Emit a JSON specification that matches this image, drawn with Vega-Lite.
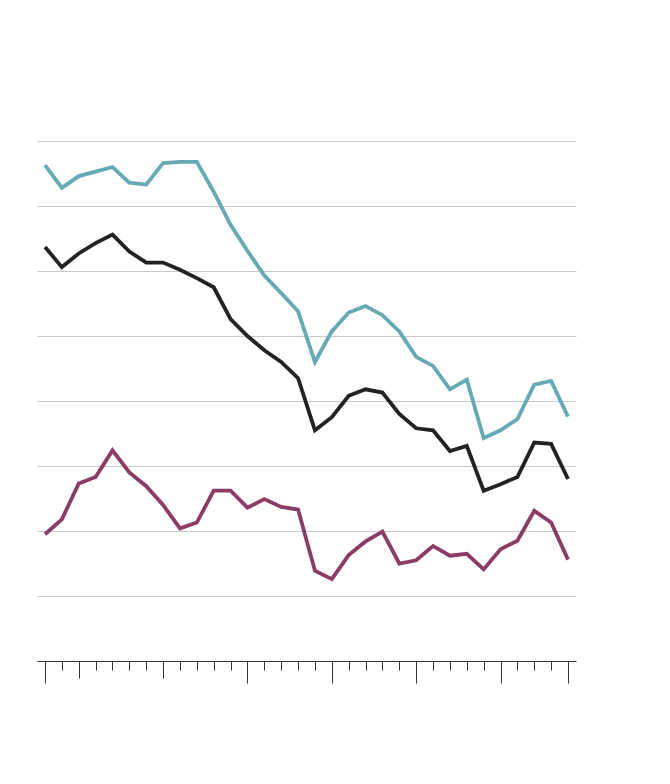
{
  "$schema": "https://vega.github.io/schema/vega-lite/v6.json",
  "width": 539,
  "height": 520,
  "autosize": {"type": "none"},
  "padding": {"left": 37, "top": 141, "right": 94, "bottom": 123},
  "background": "white",
  "config": {"view": {"stroke": null}},
  "data": {
    "values": [
      {"year":1988,"a":76.3,"b":63.7,"c":19.5},
      {"year":1989,"a":72.8,"b":60.6,"c":21.8},
      {"year":1990,"a":74.6,"b":62.7,"c":27.3},
      {"year":1991,"a":75.3,"b":64.3,"c":28.3},
      {"year":1992,"a":76.0,"b":65.6,"c":32.4},
      {"year":1993,"a":73.6,"b":63.0,"c":29.0},
      {"year":1994,"a":73.3,"b":61.3,"c":26.9},
      {"year":1995,"a":76.6,"b":61.3,"c":24.0},
      {"year":1996,"a":76.8,"b":60.2,"c":20.4},
      {"year":1997,"a":76.8,"b":58.9,"c":21.3},
      {"year":1998,"a":72.2,"b":57.5,"c":26.2},
      {"year":1999,"a":67.1,"b":52.6,"c":26.2},
      {"year":2000,"a":63.1,"b":50.0,"c":23.6},
      {"year":2001,"a":59.3,"b":47.8,"c":24.9},
      {"year":2002,"a":56.6,"b":46.0,"c":23.7},
      {"year":2003,"a":53.8,"b":43.5,"c":23.3},
      {"year":2004,"a":46.0,"b":35.5,"c":13.9},
      {"year":2005,"a":50.7,"b":37.5,"c":12.6},
      {"year":2006,"a":53.6,"b":40.8,"c":16.3},
      {"year":2007,"a":54.6,"b":41.8,"c":18.4},
      {"year":2008,"a":53.2,"b":41.3,"c":19.9},
      {"year":2009,"a":50.7,"b":38.0,"c":15.0},
      {"year":2010,"a":46.8,"b":35.8,"c":15.5},
      {"year":2011,"a":45.4,"b":35.5,"c":17.7},
      {"year":2012,"a":41.8,"b":32.3,"c":16.2},
      {"year":2013,"a":43.3,"b":33.1,"c":16.5},
      {"year":2014,"a":34.3,"b":26.2,"c":14.1},
      {"year":2015,"a":35.5,"b":27.2,"c":17.2},
      {"year":2016,"a":37.2,"b":28.3,"c":18.5},
      {"year":2017,"a":42.5,"b":33.6,"c":23.1},
      {"year":2018,"a":43.1,"b":33.4,"c":21.3},
      {"year":2019,"a":37.6,"b":28.0,"c":15.6}
    ]
  },
  "transform": [
    {"fold": ["a", "b", "c"], "as": ["series", "value"]}
  ],
  "mark": {"type": "line", "strokeWidth": 3.8, "strokeJoin": "miter", "strokeCap": "butt"},
  "encoding": {
    "x": {
      "field": "year",
      "type": "quantitative",
      "scale": {"domain": [1987.526, 2019.474], "nice": false, "zero": false},
      "axis": {
        "title": null,
        "labels": false,
        "grid": false,
        "values": [1988,1989,1990,1991,1992,1993,1994,1995,1996,1997,1998,1999,2000,2001,2002,2003,2004,2005,2006,2007,2008,2009,2010,2011,2012,2013,2014,2015,2016,2017,2018,2019],
        "domainColor": "#333333",
        "domainWidth": 1,
        "tickColor": "#333333",
        "tickWidth": 1,
        "tickSize": {
          "condition": [
            {"test": "datum.value == 1988 || datum.value == 2000 || datum.value == 2005 || datum.value == 2010 || datum.value == 2015 || datum.value == 2019", "value": 22},
            {"test": "datum.value == 1990 || datum.value == 1995", "value": 17}
          ],
          "value": 9
        }
      }
    },
    "y": {
      "field": "value",
      "type": "quantitative",
      "scale": {"domain": [0, 80], "nice": false},
      "axis": {
        "title": null,
        "labels": false,
        "ticks": false,
        "domain": false,
        "grid": true,
        "values": [10,20,30,40,50,60,70,80],
        "gridColor": "#c8c8c8",
        "gridWidth": 1
      }
    },
    "color": {
      "field": "series",
      "type": "nominal",
      "scale": {"domain": ["a", "b", "c"], "range": ["#64a9b3", "#222222", "#8a3c62"]},
      "legend": null
    }
  }
}
